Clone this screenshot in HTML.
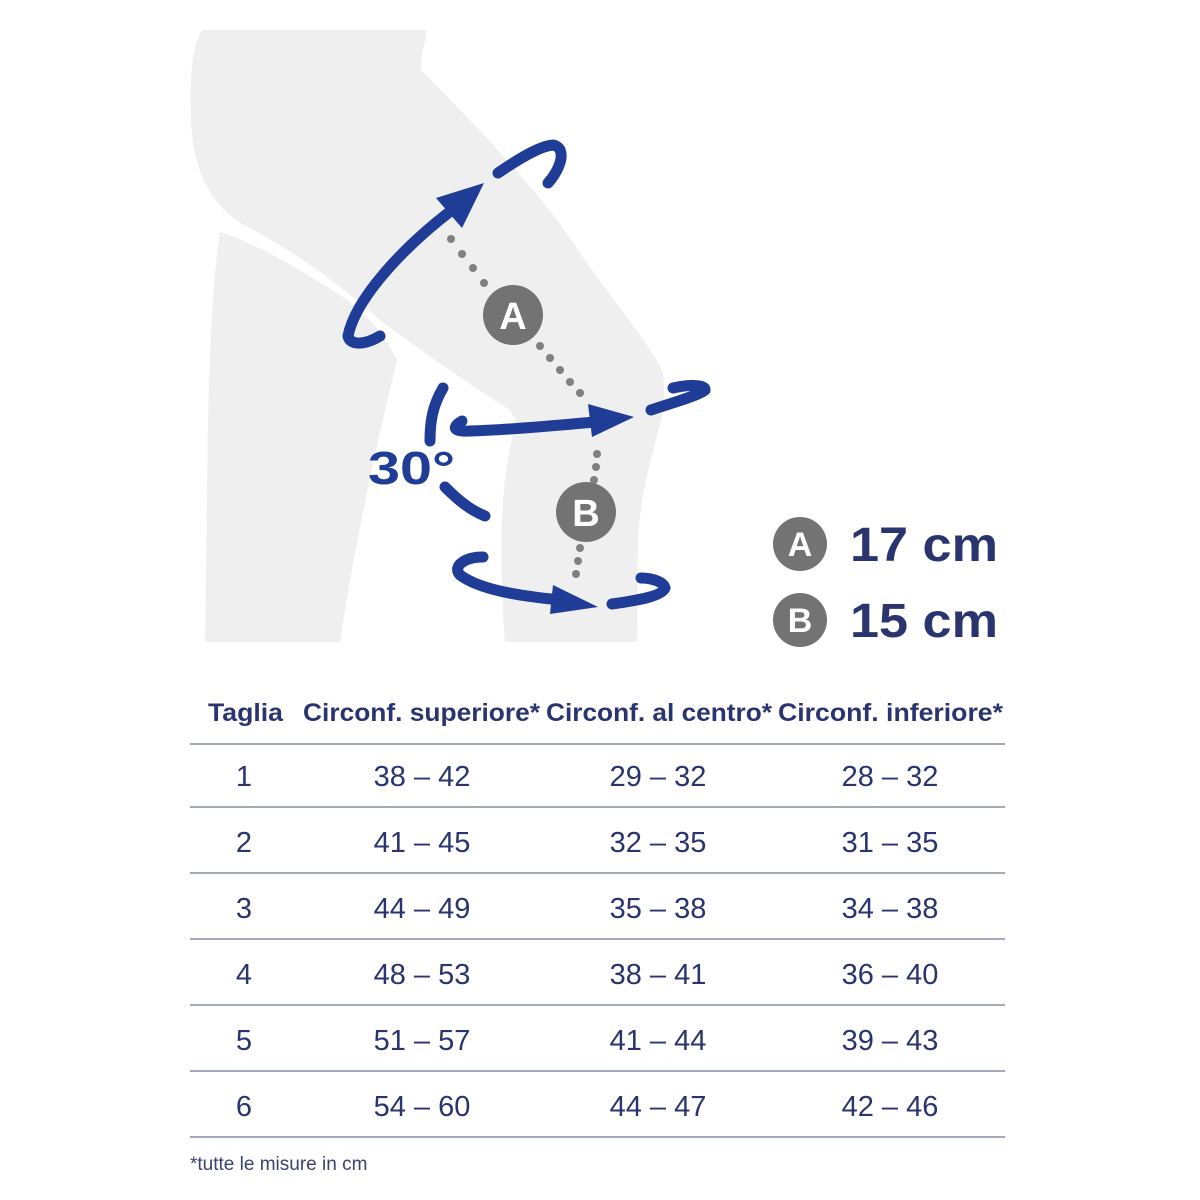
<!DOCTYPE html>
<html><head><meta charset="utf-8"><style>html,body{margin:0;padding:0;background:#fff}svg{display:block}</style></head>
<body>
<svg width="1200" height="1200" viewBox="0 0 1200 1200" xmlns="http://www.w3.org/2000/svg">
<path d="M203,30 L427,30 C425,45 420,58 421,70 C470,120 540,190 580,253 C620,310 650,345 663,372 C666,400 662,420 658,432 C648,470 640,500 638,540 L637,642 L505,642 C500,580 500,520 505,480 C508,455 512,440 516,420 L510,410 C470,385 420,350 380,320 C340,285 300,255 250,228 C210,208 193,170 191,120 C190,80 191,45 203,30 Z" fill="#efefef"/>
<path d="M220,232 C260,245 300,270 340,295 C365,312 385,335 397,360 C380,430 355,540 340,642 L205,642 L208,420 C210,330 214,270 220,232 Z" fill="#efefef"/>
<g stroke="#1f3c96" stroke-width="11" fill="none" stroke-linecap="round">
<path d="M380,336 C365,345 350,346 348,336 C355,300 400,250 452,210"/>
<path d="M498,173 C520,158 540,146 553,145 C568,148 560,170 548,183"/>
<path d="M462,421 C450,428 455,432 470,431 C510,430 560,425 595,422"/>
<path d="M651,410 C675,402 700,395 705,390 C706,385 690,384 673,388"/>
<path d="M483,557 C465,557 452,566 460,575 C480,590 520,596 560,600"/>
<path d="M612,604 C640,600 662,596 665,588 C664,582 652,578 641,578"/>
<path d="M443,388 C433,405 430,420 430,441"/>
<path d="M445,487 C458,500 470,510 485,516"/>
</g>
<g fill="#1f3c96">
<polygon points="484,183 436,198 462,228"/>
<polygon points="634,417 588,404 592,437"/>
<polygon points="598,607 553,585 550,614"/>
</g>
<g fill="#808080">
<circle cx="451" cy="239" r="4"/><circle cx="462" cy="254" r="4"/><circle cx="473" cy="268" r="4"/><circle cx="484" cy="283" r="4"/>
<circle cx="540" cy="346" r="4"/><circle cx="550" cy="358" r="4"/><circle cx="560" cy="370" r="4"/><circle cx="570" cy="382" r="4"/><circle cx="580" cy="393" r="4"/>
<circle cx="597" cy="454" r="4"/><circle cx="596" cy="467" r="4"/><circle cx="594" cy="480" r="4"/>
<circle cx="580" cy="548" r="4"/><circle cx="578" cy="561" r="4"/><circle cx="576" cy="574" r="4"/>
<circle cx="513" cy="315" r="30" fill="#737373"/>
<circle cx="586" cy="512" r="30" fill="#737373"/>
<circle cx="800" cy="544" r="27" fill="#737373"/>
<circle cx="800" cy="620" r="27" fill="#737373"/>
</g>
<g font-family="Liberation Sans, sans-serif" font-weight="bold" fill="#fff" text-anchor="middle">
<text x="513" y="329" font-size="38">A</text>
<text x="586" y="526" font-size="38">B</text>
<text x="800" y="556" font-size="34">A</text>
<text x="800" y="632" font-size="34">B</text>
</g>
<g font-family="Liberation Sans, sans-serif" font-weight="bold" fill="#1f3c96">
<text x="368" y="484" font-size="46" textLength="87" lengthAdjust="spacingAndGlyphs">30°</text>
</g>
<g font-family="Liberation Sans, sans-serif" font-weight="bold" fill="#2a3570" font-size="48">
<text x="850" y="561" textLength="148" lengthAdjust="spacingAndGlyphs">17 cm</text>
<text x="850" y="637" textLength="148" lengthAdjust="spacingAndGlyphs">15 cm</text>
</g>
<g font-family="Liberation Sans Narrow, Liberation Sans, sans-serif" font-weight="bold" fill="#2a3570" font-size="25">
<text x="208" y="721" textLength="75" lengthAdjust="spacingAndGlyphs">Taglia</text>
<text x="303" y="721" textLength="237" lengthAdjust="spacingAndGlyphs">Circonf. superiore*</text>
<text x="546" y="721" textLength="226" lengthAdjust="spacingAndGlyphs">Circonf. al centro*</text>
<text x="778" y="721" textLength="225" lengthAdjust="spacingAndGlyphs">Circonf. inferiore*</text>
</g>
<g stroke="#a3a8bf" stroke-width="2">
<line x1="190" y1="744" x2="1005" y2="744"/><line x1="190" y1="807" x2="1005" y2="807"/>
<line x1="190" y1="873" x2="1005" y2="873"/><line x1="190" y1="939" x2="1005" y2="939"/>
<line x1="190" y1="1005" x2="1005" y2="1005"/><line x1="190" y1="1071" x2="1005" y2="1071"/>
<line x1="190" y1="1137" x2="1005" y2="1137"/>
</g>
<g font-family="Liberation Sans Narrow, Liberation Sans, sans-serif" fill="#2a3570" font-size="29" text-anchor="middle">
<text x="244" y="786">1</text><text x="422" y="786">38 – 42</text><text x="658" y="786">29 – 32</text><text x="890" y="786">28 – 32</text>
<text x="244" y="852">2</text><text x="422" y="852">41 – 45</text><text x="658" y="852">32 – 35</text><text x="890" y="852">31 – 35</text>
<text x="244" y="918">3</text><text x="422" y="918">44 – 49</text><text x="658" y="918">35 – 38</text><text x="890" y="918">34 – 38</text>
<text x="244" y="984">4</text><text x="422" y="984">48 – 53</text><text x="658" y="984">38 – 41</text><text x="890" y="984">36 – 40</text>
<text x="244" y="1050">5</text><text x="422" y="1050">51 – 57</text><text x="658" y="1050">41 – 44</text><text x="890" y="1050">39 – 43</text>
<text x="244" y="1116">6</text><text x="422" y="1116">54 – 60</text><text x="658" y="1116">44 – 47</text><text x="890" y="1116">42 – 46</text>
</g>
<text x="190" y="1170" font-family="Liberation Sans, sans-serif" font-size="19" fill="#3a4270">*tutte le misure in cm</text>
</svg>
</body></html>
